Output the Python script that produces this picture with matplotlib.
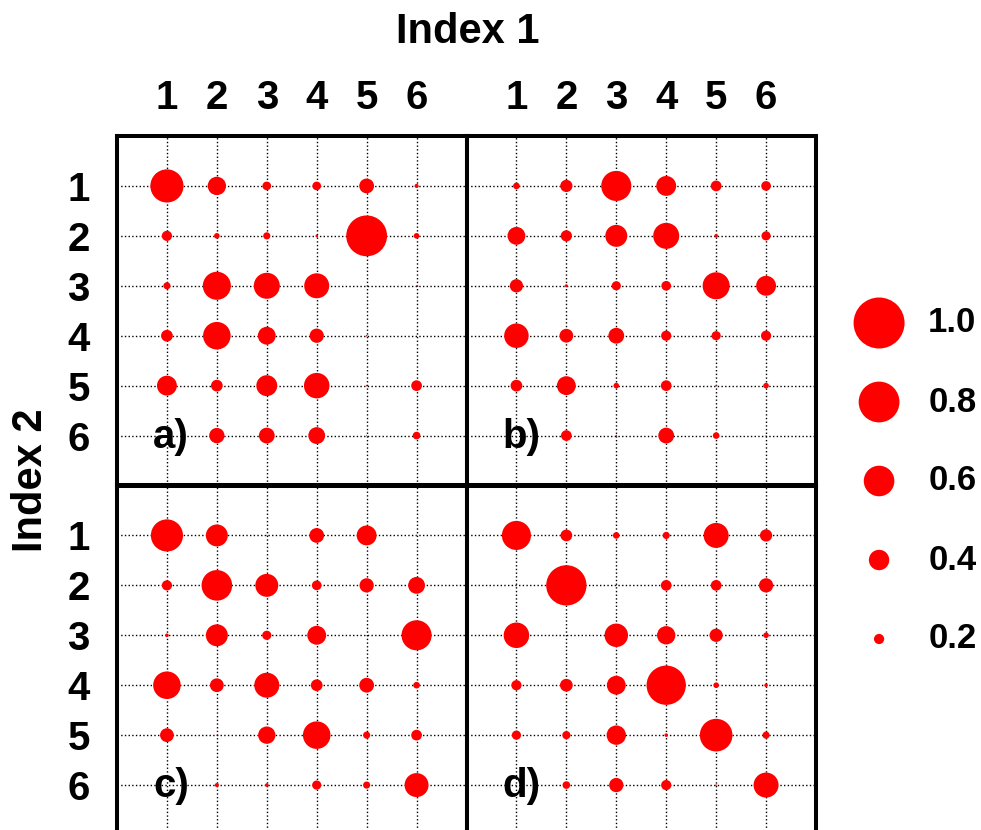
import numpy as np
import matplotlib
matplotlib.use("Agg")
import matplotlib.pyplot as plt

plt.rcParams['font.family'] = ['Liberation Sans', 'DejaVu Sans']
plt.rcParams['font.weight'] = 'bold'

# Index labels
index_labels = ['1', '2', '3', '4', '5', '6']

# Weight matrices: rows = Index 2, columns = Index 1
panel_a = [
    [0.65, 0.36, 0.17, 0.17, 0.29, 0.08],
    [0.20, 0.11, 0.14, 0.05, 0.80, 0.11],
    [0.14, 0.55, 0.51, 0.49, 0.01, 0.02],
    [0.23, 0.54, 0.35, 0.28, 0.03, 0.01],
    [0.39, 0.23, 0.41, 0.50, 0.03, 0.21],
    [0.00, 0.30, 0.31, 0.33, 0.02, 0.15],
]
panel_b = [
    [0.13, 0.24, 0.59, 0.39, 0.21, 0.19],
    [0.35, 0.22, 0.43, 0.51, 0.07, 0.18],
    [0.26, 0.06, 0.18, 0.19, 0.53, 0.39],
    [0.48, 0.27, 0.31, 0.20, 0.18, 0.20],
    [0.23, 0.37, 0.11, 0.21, 0.03, 0.11],
    [0.00, 0.21, 0.03, 0.31, 0.13, 0.02],
]
panel_c = [
    [0.63, 0.43, 0.02, 0.29, 0.39, 0.02],
    [0.20, 0.60, 0.45, 0.19, 0.28, 0.33],
    [0.07, 0.43, 0.18, 0.37, 0.01, 0.59],
    [0.54, 0.27, 0.49, 0.23, 0.29, 0.13],
    [0.27, 0.02, 0.34, 0.54, 0.14, 0.21],
    [0.00, 0.08, 0.07, 0.18, 0.14, 0.47],
]
panel_d = [
    [0.57, 0.23, 0.13, 0.14, 0.49, 0.24],
    [0.02, 0.79, 0.02, 0.21, 0.21, 0.28],
    [0.50, 0.01, 0.46, 0.36, 0.26, 0.11],
    [0.20, 0.25, 0.37, 0.77, 0.11, 0.07],
    [0.18, 0.16, 0.38, 0.07, 0.64, 0.14],
    [0.00, 0.15, 0.28, 0.20, 0.03, 0.49],
]
panel_names = ['a)', 'b)', 'c)', 'd)']

# Size key
key_values = [1.0, 0.8, 0.6, 0.4, 0.2]

DPI = 100
W, H = 981, 830
fig = plt.figure(figsize=(W / DPI, H / DPI), dpi=DPI)


def marker_area(v):
    # circle diameter proportional to the value (51 px for 1.0)
    d_px = 51.0 * np.asarray(v, dtype=float)
    d_pt = d_px * 72.0 / DPI
    return d_pt ** 2


def px_rect(x0, y0, x1, y1):
    return [x0 / W, 1 - y1 / H, (x1 - x0) / W, (y1 - y0) / H]


left, mid_x, right = 117, 466.5, 816
top, mid_y, bottom = 136, 485.5, 835

boxes = [
    px_rect(left, top, mid_x, mid_y),
    px_rect(mid_x, top, right, mid_y),
    px_rect(left, mid_y, mid_x, bottom),
    px_rect(mid_x, mid_y, right, bottom),
]
matrices = [panel_a, panel_b, panel_c, panel_d]

n = len(index_labels)
pos = np.arange(1, n + 1)
xx, yy = np.meshgrid(pos, pos)

for i, (box, mat, name) in enumerate(zip(boxes, matrices, panel_names)):
    ax = fig.add_axes(box)
    ax.set_xlim(0, n + 1)
    ax.set_ylim(n + 1, 0)
    ax.set_xticks(pos)
    ax.set_yticks(pos)
    ax.grid(True, color='black', linestyle=':', linewidth=1.0, zorder=1)
    ax.set_axisbelow(True)
    vals = np.array(mat)
    ax.scatter(xx.ravel(), yy.ravel(), s=marker_area(vals.ravel()),
               color='#ff0000', linewidths=0, zorder=3)
    ax.text(0.72, 6.02, name, fontsize=29, fontweight='bold',
            ha='left', va='center', zorder=5)
    for sp in ax.spines.values():
        sp.set_linewidth(2.9)
        sp.set_color('black')
    ax.tick_params(length=0, labelsize=29,
                   top=False, bottom=False, left=False, right=False,
                   labeltop=(i < 2), labelbottom=False,
                   labelleft=(i % 2 == 0), labelright=False)
    ax.tick_params(axis='x', pad=14)
    ax.tick_params(axis='y', pad=19.5)
    ax.set_xticklabels(index_labels, fontweight='bold')
    ax.set_yticklabels(index_labels, fontweight='bold')

fig.text(468 / W, 1 - 32 / H, 'Index 1', fontsize=30, fontweight='bold',
         ha='center', va='center')
fig.text(31 / W, 1 - 480 / H, 'Index 2', fontsize=30, fontweight='bold',
         ha='center', va='center', rotation=90)

# Size key on the right
kax = fig.add_axes(px_rect(830, 283.5, 981, 678.5))
kax.set_xlim(0, 1)
kax.set_ylim(-0.5, len(key_values) - 0.5)
kax.axis('off')
ky = np.arange(len(key_values))[::-1]
kax.scatter(np.full(len(key_values), 0.325), ky, s=marker_area(key_values),
            color='#ff0000', linewidths=0, clip_on=False)
for v, y in zip(key_values, ky):
    kax.text(0.65, y, f'{v:.1f}', fontsize=25, fontweight='bold',
             ha='left', va='center')

fig.savefig('out.png', dpi=DPI)
